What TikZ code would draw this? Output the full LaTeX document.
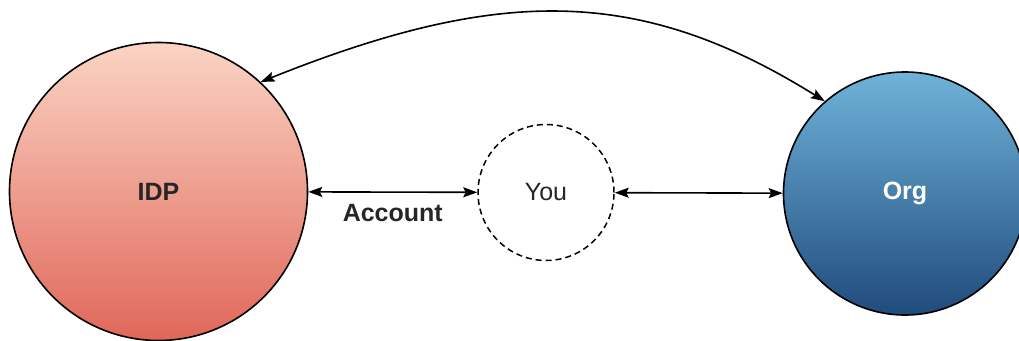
\documentclass[tikz,border=0pt]{standalone}
\usepackage{fontspec}
\setmainfont{Liberation Sans}
\usetikzlibrary{arrows.meta}
\definecolor{idptop}{HTML}{FAD4C3}
\definecolor{idpbot}{HTML}{E0675A}
\definecolor{orgtop}{HTML}{6FB3D9}
\definecolor{orgbot}{HTML}{204B7C}
\definecolor{txt}{HTML}{262626}
\tikzset{
  bigcircle/.style={circle, draw=black, line width=1.6pt, inner sep=0pt, font=\fontsize{25}{29}\selectfont\bfseries},
  youcircle/.style={circle, draw=black, line width=1.5pt, dash pattern=on 6pt off 4pt, inner sep=0pt, font=\fontsize{25}{29}\selectfont, text=txt},
  link/.style={line width=1.6pt, {Stealth[length=14pt,width=10pt,inset=2.5pt]}-{Stealth[length=14pt,width=10pt,inset=2.5pt]}},
  lbl/.style={font=\fontsize{25}{29}\selectfont\bfseries, text=txt}
}
\begin{document}
\begin{tikzpicture}[x=1pt,y=-1pt]
\useasboundingbox (0,0) rectangle (1019,340);
\node[bigcircle, minimum size=298pt, top color=idptop, bottom color=idpbot, text=txt] (idp) at (158.5,191.5) {IDP};
\node[youcircle, minimum size=136pt] (you) at (546,192.5) {You};
\node[bigcircle, minimum size=243pt, top color=orgtop, bottom color=orgbot, text=white] (org) at (905,193.5) {Org};
\draw[link] (idp) -- node[pos=0.5, yshift=-21pt, lbl] (acc) {Account} (you);
\draw[link] (you) -- (org);
\draw[link] (idp.47) .. controls (500,-14) and (640,-14) .. (org.131);
\end{tikzpicture}
\end{document}
